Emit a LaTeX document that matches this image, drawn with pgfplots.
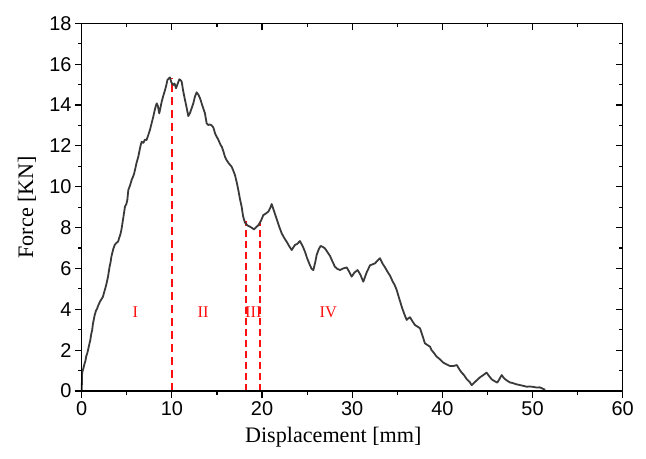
\documentclass[border=0pt]{standalone}
\usepackage{fontspec}
\setmainfont{Liberation Serif}
\newfontfamily\arial{Liberation Sans}
\usepackage{pgfplots}
\pgfplotsset{compat=1.18}
\definecolor{curve}{HTML}{3A3A3A}
\definecolor{rl}{HTML}{FF1010}
\begin{document}
\begin{tikzpicture}
\useasboundingbox (-81.7bp,-68bp) rectangle (564.3bp,391bp);
\begin{axis}[
  at={(0,0)}, anchor=south west,
  scale only axis, width=541bp, height=367.7bp,
  xmin=0, xmax=60, ymin=0, ymax=18,
  xtick={0,10,...,60}, ytick={0,2,...,18},
  minor x tick num=1, minor y tick num=1,
  tick align=outside, xtick pos=left, ytick pos=left,
  major tick length=6.7bp, minor tick length=3.5bp,
  axis line style={line width=1.3bp},
  every tick/.style={black, line width=1.2bp},
  ticklabel style={font=\arial\fontsize{20}{24}\selectfont},
  /pgf/number format/assume math mode=true,
  xlabel={Displacement [mm]}, ylabel={Force [KN]},
  label style={font=\fontsize{22.2}{26}\selectfont},
  xlabel style={at={(axis description cs:0.465,-0.1414)}, anchor=base},
  ylabel style={at={(axis description cs:-0.090,0.5)}, anchor=base},
  clip=false,
]
\addplot[rl, line width=2bp, dash pattern=on 8bp off 5bp] coordinates {(10,0) (10,15.3)};
\addplot[rl, line width=1.6bp, dash pattern=on 7bp off 4bp] coordinates {(18.2,0) (18.2,8.3)};
\addplot[rl, line width=1.6bp, dash pattern=on 7bp off 4bp] coordinates {(19.75,0) (19.75,8.2)};
\addplot[curve, line width=1.8bp, line join=round] coordinates {
(0.00,0.00) (0.05,0.90) (0.15,1.05) (0.33,1.36) (0.42,1.48) (0.50,1.70) (0.60,1.82) (0.70,2.00) (0.85,2.30)
(0.95,2.48) (1.07,2.82) (1.15,2.95) (1.25,3.30) (1.44,3.72) (1.60,3.95) (1.70,4.02) (1.81,4.16) (2.05,4.40) (2.20,4.50) (2.36,4.62)
(2.50,4.85) (2.60,5.00) (2.75,5.25) (2.92,5.60) (3.10,6.10) (3.20,6.30) (3.29,6.57) (3.50,6.95) (3.66,7.15) (3.85,7.25)
(4.03,7.31) (4.20,7.55) (4.30,7.68) (4.40,7.88) (4.55,8.30) (4.69,8.70) (4.80,9.02) (4.95,9.15) (5.06,9.35)
(5.17,9.84) (5.35,10.05) (5.54,10.33) (5.70,10.50) (5.80,10.62) (5.91,10.82) (6.10,11.20) (6.28,11.47)
(6.45,11.85) (6.55,12.05) (6.65,12.20) (6.85,12.15) (7.00,12.30) (7.20,12.29) (7.40,12.55) (7.57,12.78)
(7.75,13.10) (7.94,13.43) (8.10,13.75) (8.20,13.92) (8.32,14.08) (8.45,13.95) (8.60,13.59) (8.75,13.90)
(8.87,14.16) (9.05,14.45) (9.24,14.73) (9.40,15.00) (9.50,15.22) (9.65,15.30) (9.79,15.35)
(9.95,15.10) (10.16,14.98) (10.30,15.05) (10.46,14.82) (10.65,15.05) (10.83,15.26) (11.00,15.20)
(11.09,15.14) (11.25,14.70) (11.46,14.24) (11.65,13.85) (11.82,13.46) (12.00,13.60) (12.20,13.85)
(12.38,14.08) (12.55,14.40) (12.75,14.62) (12.95,14.50) (13.12,14.33) (13.40,13.95) (13.67,13.59)
(13.86,13.10) (14.04,13.02) (14.20,13.05) (14.42,13.00) (14.60,12.90) (14.80,12.60) (14.97,12.45)
(15.15,12.30) (15.40,12.05) (15.55,11.95) (15.70,11.75) (15.90,11.45) (16.08,11.30) (16.30,11.15) (16.63,10.98)
(16.80,10.80) (17.00,10.57) (17.20,10.20) (17.37,9.84) (17.55,9.40) (17.74,9.02) (17.90,8.55)
(18.10,8.25) (18.40,8.10) (18.67,8.04) (18.90,7.98) (19.10,7.91) (19.30,8.00) (19.60,8.12)
(19.90,8.35) (20.14,8.61) (20.40,8.68) (20.70,8.78) (20.90,8.95) (21.07,9.15) (21.30,8.85)
(21.60,8.45) (21.90,8.05) (22.18,7.72) (22.45,7.50) (22.73,7.31) (23.00,7.10) (23.29,6.90)
(23.50,7.05) (23.66,7.15) (23.90,7.20) (24.20,7.34) (24.50,7.10) (24.76,6.82) (25.00,6.50)
(25.30,6.17) (25.50,5.98) (25.69,5.92) (25.90,6.30) (26.06,6.66) (26.30,6.95) (26.50,7.10)
(26.75,7.05) (26.98,6.98) (27.25,6.80) (27.54,6.61) (27.80,6.35) (28.09,6.08) (28.35,5.98)
(28.65,5.92) (29.00,6.00) (29.39,6.05) (29.65,5.85) (29.94,5.60) (30.25,5.80) (30.60,5.92)
(30.90,5.70) (31.23,5.35) (31.60,5.80) (31.97,6.15) (32.25,6.20) (32.53,6.25) (32.80,6.38)
(33.08,6.50) (33.35,6.25) (33.64,6.05) (33.90,5.85) (34.19,5.65) (34.50,5.35) (34.70,5.20) (34.93,4.95)
(35.20,4.55) (35.49,4.13) (35.75,3.80) (36.04,3.48) (36.20,3.55) (36.41,3.61) (36.70,3.40)
(36.96,3.23) (37.25,3.15) (37.52,3.07) (37.80,2.70) (38.07,2.33) (38.35,2.25) (38.63,2.17)
(38.80,2.00) (39.00,1.90) (39.20,1.78) (39.37,1.68) (39.74,1.55) (40.10,1.39) (40.48,1.30) (40.85,1.22) (41.20,1.22)
(41.60,1.27) (41.90,1.05) (42.14,0.90) (42.40,0.78) (42.70,0.58) (43.06,0.42) (43.25,0.29)
(43.43,0.36) (43.80,0.52) (44.20,0.68) (44.54,0.78) (44.90,0.90) (45.20,0.72) (45.47,0.57)
(45.80,0.48) (46.09,0.41) (46.35,0.60) (46.58,0.78) (46.85,0.62) (47.13,0.52) (47.50,0.42)
(47.87,0.38) (48.20,0.33) (48.60,0.29) (49.00,0.25) (49.35,0.21) (49.70,0.22) (50.10,0.20)
(50.45,0.17) (50.80,0.18) (51.10,0.12) (51.40,0.06)
};
\node[rl, anchor=base, font=\fontsize{16.5}{18}\selectfont] at (axis cs:5.95,3.6) {I};
\node[rl, anchor=base, font=\fontsize{16.5}{18}\selectfont] at (axis cs:13.47,3.6) {II};
\node[rl, anchor=base, font=\fontsize{16.5}{18}\selectfont] at (axis cs:19.03,3.6) {III};
\node[rl, anchor=base, font=\fontsize{16.5}{18}\selectfont] at (axis cs:27.35,3.6) {IV};
\end{axis}
\begin{axis}[
  at={(0,0)}, anchor=south west,
  scale only axis, width=541bp, height=367.7bp,
  xmin=0, xmax=60, ymin=0, ymax=18,
  xtick={0,10,...,60}, ytick={0,2,...,18},
  minor x tick num=1, minor y tick num=1,
  tick align=inside, xtick pos=right, ytick pos=right,
  major tick length=6.7bp, minor tick length=3.5bp,
  axis line style={line width=1.3bp},
  every tick/.style={black, line width=1.2bp},
  xticklabels={}, yticklabels={},
]
\end{axis}
\end{tikzpicture}
\end{document}
